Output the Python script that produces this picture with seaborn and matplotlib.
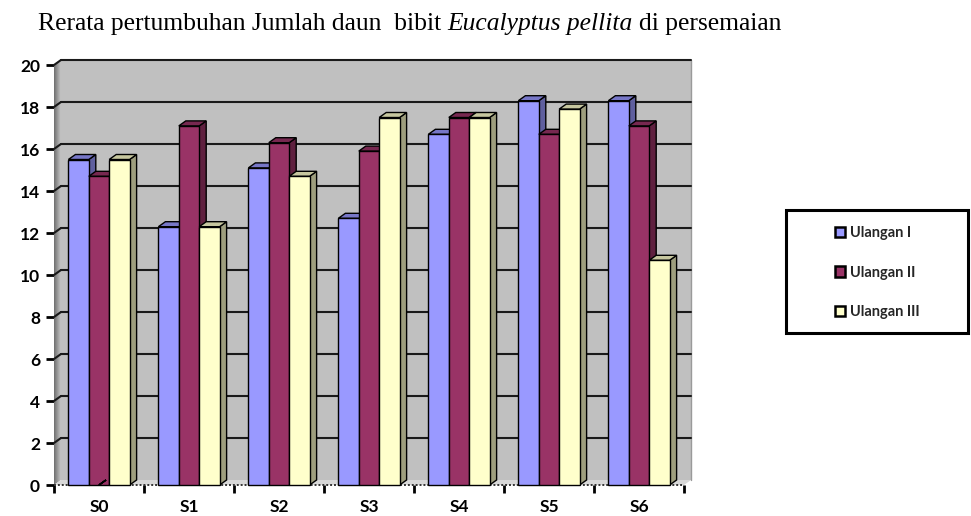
import numpy as np
import pandas as pd
import matplotlib
matplotlib.use("Agg")
import matplotlib.pyplot as plt
import seaborn as sns
from matplotlib.patches import Polygon, Rectangle
from matplotlib.lines import Line2D
import matplotlib.colors as mcolors

# ---------------- data ----------------
categories = ["S0", "S1", "S2", "S3", "S4", "S5", "S6"]
ulangan_1 = [15.5, 12.3, 15.1, 12.7, 16.7, 18.3, 18.3]
ulangan_2 = [14.7, 17.1, 16.3, 15.9, 17.5, 16.7, 17.1]
ulangan_3 = [15.5, 12.3, 14.7, 17.5, 17.5, 17.9, 10.7]
series_names = ["Ulangan I", "Ulangan II", "Ulangan III"]
series_colors = ["#9999FF", "#993366", "#FFFFCC"]
y_ticks = [0, 2, 4, 6, 8, 10, 12, 14, 16, 18, 20]
title_parts = ["Rerata pertumbuhan Jumlah daun  bibit", "Eucalyptus pellita", "di persemaian"]

df = pd.DataFrame({
    "Perlakuan": categories * 3,
    "Ulangan": np.repeat(series_names, len(categories)),
    "Jumlah daun": ulangan_1 + ulangan_2 + ulangan_3,
})

sns.set_theme(style="white")
plt.rcParams["font.family"] = ["Lato", "DejaVu Sans"]

W, H, DPI = 971, 516, 100
fig = plt.figure(figsize=(W / DPI, H / DPI), dpi=DPI)
fig.patch.set_facecolor("white")

# axes in pixel layout (front plane)
AX_L, AX_R, AX_T, AX_B = 54, 684, 65, 485
ax = fig.add_axes([AX_L / W, (H - AX_B) / H, (AX_R - AX_L) / W, (AX_B - AX_T) / H])
ax.set_facecolor("none")

sns.barplot(data=df, x="Perlakuan", y="Jumlah daun", hue="Ulangan",
            palette=series_colors, width=0.68, edgecolor="black", linewidth=1.0,
            saturation=1, ax=ax, legend=True)
handles = ax.get_legend().legend_handles
ax.get_legend().remove()
bars = [p for p in ax.patches]

ax.set_xlim(-0.5, len(categories) - 0.5)
ax.set_ylim(0, 20)
ax.set_yticks(y_ticks)
ax.set_xlabel("")
ax.set_ylabel("")
for s in ax.spines.values():
    s.set_visible(False)

# depth offset in pixels
DXP, DYP = 7, 5
pinch = fig.dpi_scale_trans  # inches


def px(xp, yp_top):
    """pixel coordinate (y measured from top) -> inches"""
    return (xp / DPI, (H - yp_top) / DPI)


def data_to_px(x, y):
    X, Y = ax.transData.transform((x, y))
    return X, H - Y


# back wall
wall = Polygon([px(AX_L + DXP, AX_B - DYP), px(AX_R + DXP, AX_B - DYP),
                px(AX_R + DXP, AX_T - DYP), px(AX_L + DXP, AX_T - DYP)],
               closed=True, transform=pinch, fc="#C0C0C0", ec="none", zorder=0)
fig.add_artist(wall)
# left wall with gradient-like strips
nstr = 7
for i in range(nstr):
    x0 = AX_L + DXP * i / nstr
    x1 = AX_L + DXP * (i + 1) / nstr
    f0 = i / nstr
    f1 = (i + 1) / nstr
    g = 0.45 + 0.3 * (i / (nstr - 1))
    poly = Polygon([px(x0, AX_B - DYP * f0), px(x1, AX_B - DYP * f1),
                    px(x1, AX_T - DYP * f1), px(x0, AX_T - DYP * f0)],
                   closed=True, transform=pinch, fc=(g, g, g), ec="none", zorder=0.5)
    fig.add_artist(poly)
# floor
floor = Polygon([px(AX_L, AX_B), px(AX_R, AX_B), px(AX_R + DXP, AX_B - DYP), px(AX_L + DXP, AX_B - DYP)],
                closed=True, transform=pinch, fc="#D8D8D8", ec="none", zorder=0.6)
fig.add_artist(floor)
fig.add_artist(Line2D([(AX_R + DXP) / DPI, (AX_R + DXP) / DPI], [(H - AX_B + DYP) / DPI, (H - AX_T + DYP) / DPI],
                      transform=pinch, color="#9A9A9A", lw=1, zorder=0.7))
fig.add_artist(Line2D([(AX_L + DXP) / DPI, (AX_R + DXP) / DPI], [(H - AX_T + DYP) / DPI] * 2,
                      transform=pinch, color="#555555", lw=1.2, ls=(0, (1, 1)), zorder=0.7))
fig.add_artist(Line2D([AX_L / DPI, AX_R / DPI], [(H - AX_B) / DPI] * 2,
                      transform=pinch, color="#333333", lw=1.4, ls=(0, (1, 1)), zorder=0.7))

# gridlines on back wall and left wall
for yt in y_ticks[1:]:
    _, yp = data_to_px(0, yt)
    fig.add_artist(Line2D([(AX_L + DXP) / DPI, (AX_R + DXP) / DPI], [(H - yp + DYP) / DPI] * 2,
                          transform=pinch, color="#1a1a1a", lw=1.5, zorder=0.8))
    fig.add_artist(Line2D([AX_L / DPI, (AX_L + DXP) / DPI], [(H - yp) / DPI, (H - yp + DYP) / DPI],
                          transform=pinch, color="#1a1a1a", lw=1.5, zorder=0.8))


def shade(c, f):
    r, g, b = mcolors.to_rgb(c)
    return (r * f, g * f, b * f)


bars_sorted = sorted(bars, key=lambda p: p.get_x())
for k, b in enumerate(bars_sorted):
    x0, w, h = b.get_x(), b.get_width(), b.get_height()
    fc = b.get_facecolor()
    lx, ty = data_to_px(x0, h)
    rx, by = data_to_px(x0 + w, 0)
    z = 3 + k * 0.01
    side = Polygon([px(rx, by), px(rx, ty), px(rx + DXP, ty - DYP), px(rx + DXP, by - DYP)],
                   closed=True, transform=pinch, fc=shade(fc, 0.62), ec="black", lw=1.0, zorder=z)
    top = Polygon([px(lx, ty), px(rx, ty), px(rx + DXP, ty - DYP), px(lx + DXP, ty - DYP)],
                  closed=True, transform=pinch, fc=shade(fc, 0.78), ec="black", lw=1.0, zorder=z)
    fig.add_artist(side)
    fig.add_artist(top)
    b.remove()
    front = Rectangle(px(lx, by), (rx - lx) / DPI, (by - ty) / DPI, transform=pinch,
                      fc=fc, ec="black", lw=1.0, zorder=z + 0.001)
    fig.add_artist(front)

# ticks
ax.tick_params(axis="y", which="major", length=6, width=2, color="black", direction="out",
               left=True, labelsize=12.5, pad=4)
ax.set_xticks(range(len(categories)))
ax.set_xticklabels(categories)
ax.set_xticks(np.arange(-0.5, len(categories), 1.0), minor=True)
ax.tick_params(axis="x", which="major", length=0, labelsize=12.5, pad=10)
ax.tick_params(axis="x", which="minor", length=6, width=2, color="black", direction="out", bottom=True)
for lab in ax.get_xticklabels() + ax.get_yticklabels():
    lab.set_fontweight("bold")
    lab.set_color("black")

# legend box
LB_L, LB_T, LB_R, LB_B = 786, 210, 968, 333
fig.add_artist(Rectangle(px(LB_L, LB_B), (LB_R - LB_L) / DPI, (LB_B - LB_T) / DPI, transform=pinch,
                         fc="white", ec="black", lw=2.2, zorder=5))
for h_ in handles:
    h_.set_edgecolor("black")
    h_.set_linewidth(1.8)
leg = fig.legend(handles, series_names, loc="center left",
                 bbox_to_anchor=(822 / W, 1 - ((LB_T + LB_B) / 2 + 1) / H),
                 frameon=False, handlelength=0.7, handleheight=0.7, handletextpad=0.35,
                 labelspacing=1.75, prop={"family": ["Lato", "DejaVu Sans"], "weight": "bold", "size": 10.5})
leg.set_zorder(6)

# title (mixed roman / italic)
fig.canvas.draw()
renderer = fig.canvas.get_renderer()
TITLE_X0, TITLE_X1, TITLE_Y = 38, 782, 24
fs = 16.0
sp = None
for _ in range(3):
    texts = []
    x = TITLE_X0
    a_t = fig.text(0, 0, "a a", fontsize=fs, family=["Liberation Serif"])
    aa_t = fig.text(0, 0, "aa", fontsize=fs, family=["Liberation Serif"])
    sp = a_t.get_window_extent(renderer).width - aa_t.get_window_extent(renderer).width
    a_t.remove()
    aa_t.remove()
    for i, part in enumerate(title_parts):
        t = fig.text(x / W, 1 - TITLE_Y / H, part, fontsize=fs, family=["Liberation Serif"],
                     style="italic" if i == 1 else "normal", va="center", ha="left", color="black")
        bb = t.get_window_extent(renderer)
        texts.append(t)
        x = bb.x1 + sp
    total = texts[-1].get_window_extent(renderer).x1 - TITLE_X0
    for t in texts:
        t.remove()
    fs = fs * (TITLE_X1 - TITLE_X0) / total

a_t = fig.text(0, 0, "a a", fontsize=fs, family=["Liberation Serif"])
aa_t = fig.text(0, 0, "aa", fontsize=fs, family=["Liberation Serif"])
sp = a_t.get_window_extent(renderer).width - aa_t.get_window_extent(renderer).width
a_t.remove()
aa_t.remove()
x = TITLE_X0
for i, part in enumerate(title_parts):
    t = fig.text(x / W, 1 - TITLE_Y / H, part, fontsize=fs, family=["Liberation Serif"],
                 style="italic" if i == 1 else "normal", va="center", ha="left", color="black")
    bb = t.get_window_extent(renderer)
    x = bb.x1 + sp

fig.savefig("out.png", dpi=DPI, facecolor="white")
